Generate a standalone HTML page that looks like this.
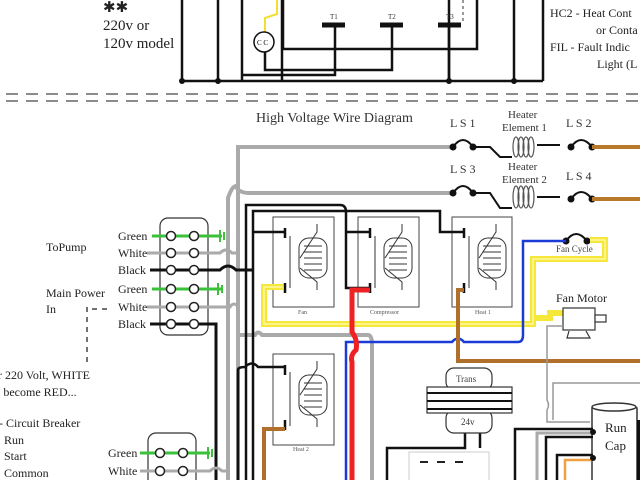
<!DOCTYPE html>
<html><head><meta charset="utf-8"><style>
html,body{margin:0;padding:0;background:#fff;}
svg{display:block;font-family:"Liberation Serif",serif;}
</style></head><body>
<svg width="640" height="480" viewBox="0 0 640 480" xmlns="http://www.w3.org/2000/svg">
<rect width="640" height="480" fill="#fff"/>
<!-- top section -->
<g stroke="#111" stroke-width="2.5" fill="none">
<path d="M182 0V81M218 0V81M242 0V81M282 0V81M449 0V81M514 0V81M543 0V81"/>
<path d="M182 81H543"/>
<path d="M242 75H335V25M265 52V70H392V25M283 0V49H477V0M449 25V81"/>
</g>
<g stroke="#111" stroke-width="5"><path d="M322 25H345M380 25H403M438 25H461"/></g>
<path d="M463 0V24" stroke="#333" stroke-dasharray="3 3"/>
<path d="M277 0V14L265 18V32" stroke="#f2e030" stroke-width="2" fill="none"/>
<circle cx="264" cy="42" r="10" fill="#fff" stroke="#111" stroke-width="1.5"/>
<text x="257" y="45" font-size="7">C C</text>
<g fill="#111"><circle cx="182" cy="81" r="3"/><circle cx="218" cy="81" r="3"/><circle cx="449" cy="81" r="3"/><circle cx="514" cy="81" r="3"/></g>
<g font-size="7" fill="#333"><text x="330" y="19">T1</text><text x="388" y="19">T2</text><text x="446" y="19">T3</text></g>
<g font-size="15" fill="#222">
<text x="103" y="12">✱✱</text>
<text x="103" y="30">220v or</text><text x="103" y="48">120v model</text>
</g>
<g font-size="12" fill="#222">
<text x="550" y="17">HC2 - Heat Cont</text><text x="596" y="34">or Conta</text>
<text x="550" y="51">FIL - Fault Indic</text><text x="597" y="68">Light (L</text>
</g>
<g stroke="#666" stroke-width="1.5" stroke-dasharray="12 8"><path d="M6 94H640M6 101H640"/></g>
<text x="256" y="122" font-size="14" fill="#333">High Voltage Wire Diagram</text>
<g font-size="12" fill="#333">
<text x="450" y="127">L S 1</text><text x="566" y="127">L S 2</text>
<text x="450" y="173">L S 3</text><text x="566" y="180">L S 4</text>
</g>
<g font-size="11" fill="#333">
<text x="508" y="118">Heater</text><text x="502" y="131">Element 1</text>
<text x="508" y="170">Heater</text><text x="502" y="183">Element 2</text>
</g>
<!-- gray wires -->
<g stroke="#aaa" stroke-width="4" fill="none">
<path d="M452 147H238V480"/>
<path d="M452 193H250Q238 193 236 186Q232 186 228 198V480"/>
<path d="M238 335H255Q258 330 262 335H368Q372 335 372 345V480"/>
</g>
<!-- LS and heaters -->
<g stroke="#111" stroke-width="2" fill="none">
<path d="M453 147Q463 133 473 147M473 147H490L500 157H512"/>
<path d="M537 145H560M571 147Q581 133 592 147"/>
<path d="M453 193Q463 179 473 193M473 193H490L500 208H512"/>
<path d="M537 197H560M571 199Q581 185 592 199"/>
<path d="M566 241Q576 227 587 241"/>
</g>
<g fill="#111"><circle cx="453" cy="147" r="3.5"/><circle cx="473" cy="147" r="3.5"/><circle cx="571" cy="147" r="3.5"/><circle cx="592" cy="147" r="3.5"/>
<circle cx="453" cy="193" r="3.5"/><circle cx="473" cy="193" r="3.5"/><circle cx="571" cy="199" r="3.5"/><circle cx="592" cy="199" r="3.5"/>
<circle cx="566" cy="241" r="3.5"/><circle cx="587" cy="241" r="3.5"/></g>
<g stroke="#555" stroke-width="1.2" fill="none">
<ellipse cx="516" cy="147" rx="3" ry="10"/><ellipse cx="521" cy="147" rx="3" ry="10"/><ellipse cx="526" cy="147" rx="3" ry="10"/><ellipse cx="531" cy="147" rx="3" ry="10"/>
<ellipse cx="516" cy="197" rx="3" ry="11"/><ellipse cx="521" cy="197" rx="3" ry="11"/><ellipse cx="526" cy="197" rx="3" ry="11"/><ellipse cx="531" cy="197" rx="3" ry="11"/>
</g>
<g stroke="#b87a2a" stroke-width="4" fill="none"><path d="M592 147H640M592 199H640"/></g>
<!-- relay boxes -->
<g stroke="#444" stroke-width="1" fill="none">
<rect x="273" y="217" width="61" height="90"/><rect x="358" y="217" width="61" height="90"/>
<rect x="452" y="217" width="60" height="90"/><rect x="273" y="354" width="61" height="91"/>
</g>
<g font-size="6" fill="#555"><text x="298" y="314">Fan</text><text x="370" y="314">Compressor</text><text x="475" y="314">Heat 1</text><text x="293" y="451">Heat 2</text></g>
<g stroke="#333" stroke-width="1" fill="none">
<path d="M290 236V288M375 236V288M469 236V288M290 372V426"/>
<path d="M317 224V232L300 258M317 290V282L300 268M402 224V232L385 258M402 290V282L385 268M496 224V232L479 258M496 290V282L479 268M317 361V369L300 395M317 427V419L300 405"/>
<rect x="299" y="238" width="28" height="40" rx="10"/><rect x="384" y="238" width="28" height="40" rx="10"/><rect x="478" y="238" width="28" height="40" rx="10"/><rect x="299" y="375" width="28" height="40" rx="10"/>
<path d="M304 246h18M304 252h18M304 258h18M304 264h18M304 270h18M389 246h18M389 252h18M389 258h18M389 264h18M389 270h18M483 246h18M483 252h18M483 258h18M483 264h18M483 270h18M304 383h18M304 389h18M304 395h18M304 401h18M304 407h18"/>
</g>
<g stroke="#111" stroke-width="2.5"><path d="M285 228V238M285 283V293M370 228V238M370 283V293M464 228V238M464 283V293M285 365V375M285 420V430"/></g>
<!-- black wires -->
<g stroke="#111" stroke-width="2.5" fill="none">
<path d="M246 480V205H340Q346 205 346 212V288H370"/>
<path d="M253 480V211H440V232H464"/>
<path d="M253 232H285M346 232H370"/>
<path d="M238 480V370Q238 367 245 367Q252 360 258 367H285"/>
<path d="M387 480V448H465V433"/>
<path d="M480 433V448"/>
</g>
<!-- yellow -->
<g fill="none"><path d="M283 287H264V324H533V259H605V240H590M533 318H550V313H563" stroke="#f5e83a" stroke-width="6"/>
<path d="M283 287H264V324H533V259H605V240H590" stroke="#fff7a0" stroke-width="1.5"/></g>
<!-- blue -->
<path d="M346 480V342H452Q458 335 464 342H518Q523 342 523 335V241H566" stroke="#1a3bd6" stroke-width="2.5" fill="none"/>
<!-- red -->
<path d="M370 290H352V332Q358 340 356 350Q350 355 352 362V480" stroke="#ee2222" stroke-width="5" fill="none"/>
<!-- brown -->
<path d="M464 290H458V361H640" stroke="#b06f2a" stroke-width="4" fill="none"/>
<path d="M285 429H264V480" stroke="#b06f2a" stroke-width="4" fill="none"/>
<!-- fan motor -->
<text x="556" y="302" font-size="12" fill="#222">Fan Motor</text>
<text x="556" y="252" font-size="9" fill="#444">Fan Cycle</text>
<g stroke="#333" stroke-width="1.2" fill="#fff">
<rect x="563" y="308" width="32" height="22"/><rect x="595" y="315" width="11" height="7"/>
<path d="M569 331L567 338H590L586 331"/>
</g>
<path d="M563 326H547V400Q550 405 547 410V422H590" stroke="#999" stroke-width="1.5" fill="none"/>
<path d="M553 420V383H640" stroke="#999" stroke-width="1.5" fill="none"/>
<!-- trans -->
<g stroke="#333" stroke-width="1.2" fill="#fff">
<rect x="446" y="368" width="46" height="22" rx="8"/>
<rect x="446" y="410" width="46" height="23" rx="8"/>
<rect x="427" y="387" width="85" height="26"/>
</g>
<g stroke="#111" stroke-width="2"><path d="M427 393H512M427 401H512M427 409H512"/></g>
<text x="456" y="382" font-size="9" fill="#444">Trans</text>
<text x="461" y="425" font-size="9" fill="#333">24v</text>
<rect x="409" y="452" width="80" height="30" fill="#fff" stroke="#ccc"/>
<path d="M420 462h8M437 462h8M455 462h8" stroke="#222" stroke-width="2"/>
<!-- run cap -->
<path d="M592 480V408Q614 400 637 408V480" stroke="#333" stroke-width="1.5" fill="#fff"/>
<ellipse cx="614" cy="407" rx="22" ry="4" fill="#fff" stroke="#333" stroke-width="1.5"/>
<rect x="637" y="420" width="3" height="60" fill="#111"/>
<text x="605" y="432" font-size="13" fill="#222">Run</text><text x="605" y="450" font-size="13" fill="#222">Cap</text>
<g fill="none" stroke-width="2.5">
<path d="M515 480V429H593" stroke="#111"/>
<path d="M537 480V433H593" stroke="#aaa" stroke-width="3"/>
<path d="M546 480V437H593" stroke="#111"/>
<path d="M557 480V455H593" stroke="#111"/>
<path d="M565 480V460H593" stroke="#f0a040"/>
</g>
<g fill="#111"><circle cx="593" cy="432" r="3"/><circle cx="593" cy="458" r="3"/></g>
<!-- terminal blocks -->
<rect x="160" y="218" width="48" height="117" rx="8" fill="#fff" stroke="#333" stroke-width="1.2"/>
<rect x="148" y="433" width="48" height="60" rx="8" fill="#fff" stroke="#333" stroke-width="1.2"/>
<g stroke-width="3" fill="none">
<path d="M152 236H222" stroke="#3ac23a"/><path d="M152 289H222" stroke="#3ac23a"/>
<path d="M147 253H220Q226 247 232 253H238" stroke="#aaa"/>
<path d="M147 307H230Q234 301 238 307" stroke="#aaa"/>
<path d="M150 270H220Q228 262 236 270H253" stroke="#111"/>
<path d="M150 324H216V480" stroke="#111"/>
<path d="M140 453H210" stroke="#3ac23a"/>
<path d="M140 471H210Q216 465 222 471H228" stroke="#aaa"/>
</g>
<g stroke="#3ac23a" stroke-width="2"><path d="M220 230V242M224 232V240M218 283V295M222 285V293M208 447V459M212 449V457"/></g>
<g fill="#fff" stroke="#222" stroke-width="1.5">
<circle cx="171" cy="236" r="4.5"/><circle cx="194" cy="236" r="4.5"/>
<circle cx="171" cy="253" r="4.5"/><circle cx="194" cy="253" r="4.5"/>
<circle cx="171" cy="270" r="4.5"/><circle cx="194" cy="270" r="4.5"/>
<circle cx="171" cy="289" r="4.5"/><circle cx="194" cy="289" r="4.5"/>
<circle cx="171" cy="307" r="4.5"/><circle cx="194" cy="307" r="4.5"/>
<circle cx="171" cy="324" r="4.5"/><circle cx="194" cy="324" r="4.5"/>
<circle cx="160" cy="453" r="4.5"/><circle cx="183" cy="453" r="4.5"/>
<circle cx="160" cy="471" r="4.5"/><circle cx="183" cy="471" r="4.5"/>
</g>
<g font-size="12" fill="#222">
<text x="118" y="240">Green</text><text x="118" y="257">White</text><text x="118" y="274">Black</text>
<text x="118" y="293">Green</text><text x="118" y="311">White</text><text x="118" y="328">Black</text>
<text x="108" y="457">Green</text><text x="108" y="475">White</text>
<text x="46" y="251">ToPump</text>
<text x="46" y="297">Main Power</text><text x="46" y="313">In</text>
<text x="-2" y="379">r 220 Volt, WHITE</text>
<text x="-3" y="396">l become RED...</text>
<text x="-1" y="427">- Circuit Breaker</text>
<text x="4" y="444">Run</text><text x="4" y="460">Start</text><text x="4" y="477">Common</text>
</g>
<path d="M87 307V363M92 309H112" stroke="#444" stroke-width="1.5" stroke-dasharray="5 5"/>
</svg>
</body></html>
